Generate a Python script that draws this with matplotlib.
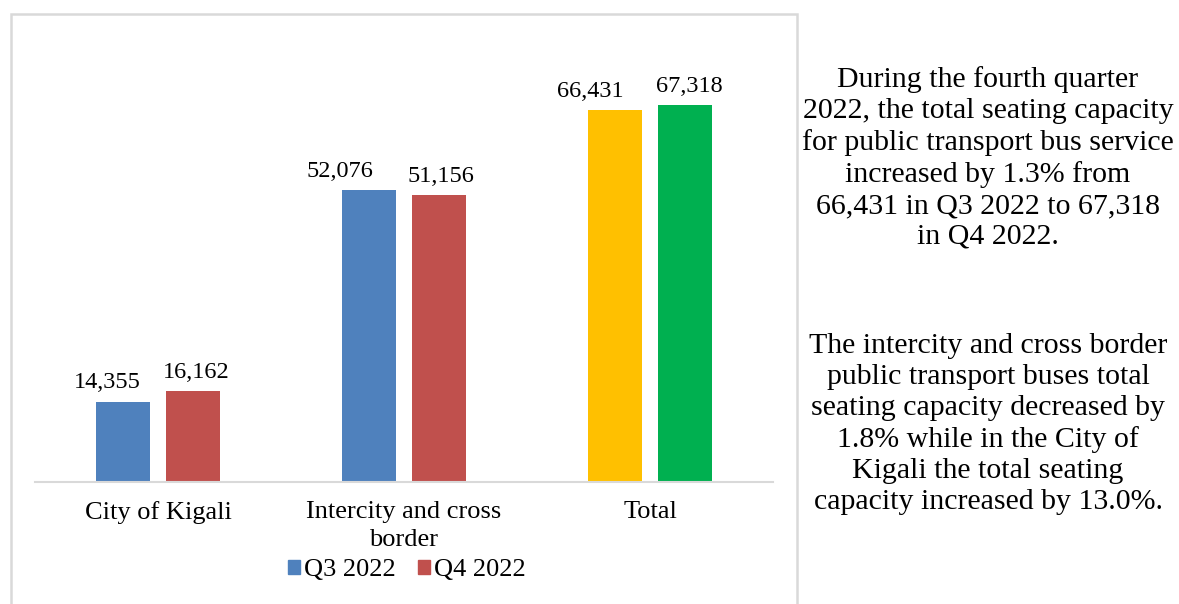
import numpy as np
import matplotlib.pyplot as plt
from matplotlib.patches import Rectangle, Patch

# ---- Data ----
CATEGORIES = ["City of Kigali", "Intercity and cross\nborder", "Total"]
Q3_2022 = [14355, 52076, 66431]
Q4_2022 = [16162, 51156, 67318]
SERIES = ["Q3 2022", "Q4 2022"]

NOTE_1 = ("During the fourth quarter\n2022, the total seating capacity\n"
          "for public transport bus service\nincreased by 1.3% from\n"
          "66,431 in Q3 2022 to 67,318\nin Q4 2022.")
NOTE_2 = ("The intercity and cross border\npublic transport buses total\n"
          "seating capacity decreased by\n1.8% while in the City of\n"
          "Kigali the total seating\ncapacity increased by 13.0%.")

# ---- Style ----
BLUE, RED, YELLOW, GREEN = "#4F81BD", "#C0504D", "#FFC000", "#00B050"
GRID = "#d9d9d9"
# label nudges in points (the source labels were dragged by hand)
Q3_LABEL_DX = [-11, -21, -18]
Q4_LABEL_DX = [2, 1.5, 3]
plt.rcParams["font.family"] = ["Liberation Serif", "DejaVu Serif"]


def main():
    fig = plt.figure(figsize=(11.79, 6.04), dpi=100)
    ax = fig.add_axes([35 / 1179, 1 - 482 / 604, 738 / 1179, 442 / 604])

    x = np.arange(len(CATEGORIES))
    w = 0.22
    off = 0.143
    q3_colors = [BLUE, BLUE, YELLOW]
    q4_colors = [RED, RED, GREEN]
    b3 = ax.bar(x - off, Q3_2022, w, color=q3_colors)
    b4 = ax.bar(x + off, Q4_2022, w, color=q4_colors)

    # value labels
    for bars, vals, dxs in ((b3, Q3_2022, Q3_LABEL_DX), (b4, Q4_2022, Q4_LABEL_DX)):
        for b, v, dx in zip(bars, vals, dxs):
            ax.annotate(f"{v:,}", (b.get_x() + b.get_width() / 2, v),
                        xytext=(dx, 6), textcoords="offset points",
                        ha="center", va="bottom", fontsize=17.5)

    ax.set_xlim(-0.5, 2.5)
    ax.set_ylim(0, 78900)
    ax.set_xticks(x)
    ax.set_xticklabels(CATEGORIES, fontsize=19, linespacing=1.3)
    ax.tick_params(axis="x", length=0, pad=14)
    ax.set_yticks([])
    for s in ("top", "left", "right"):
        ax.spines[s].set_visible(False)
    ax.spines["bottom"].set_color(GRID)
    ax.spines["bottom"].set_linewidth(1.5)

    handles = [Patch(color=BLUE), Patch(color=RED)]
    fig.legend(handles, SERIES, loc="center", bbox_to_anchor=(407 / 1179, 1 - 570 / 604),
               ncol=2, frameon=False, fontsize=19, handlelength=0.45,
               handleheight=0.45, handletextpad=0.15, columnspacing=0.85)

    # outer chart border
    fig.patches.append(Rectangle((11 / 1179, -0.05), 786 / 1179, 1.05 - 14 / 604,
                                 transform=fig.transFigure, fill=False,
                                 edgecolor=GRID, linewidth=1.8))

    fig.text(988 / 1179, 1 - 158 / 604, NOTE_1, ha="center", va="center",
             fontsize=21.5, linespacing=1.24)
    fig.text(988 / 1179, 1 - 424 / 604, NOTE_2, ha="center", va="center",
             fontsize=21.5, linespacing=1.24)

    fig.savefig("out.png", dpi=100)


if __name__ == "__main__":
    main()
